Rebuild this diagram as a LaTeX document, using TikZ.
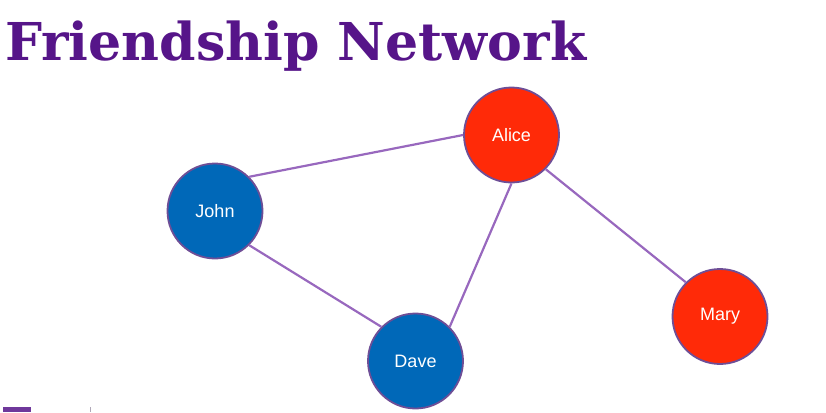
\documentclass[tikz,border=0pt]{standalone}
\usepackage{fontspec}
\setsansfont{Liberation Sans}
\newfontfamily\titlefont{DejaVu Serif}
\definecolor{titlepurple}{HTML}{561589}
\definecolor{edgepurple}{HTML}{9868BE}
\definecolor{rimpurple}{HTML}{6E4E96}
\definecolor{nodered}{HTML}{FF2A08}
\definecolor{nodeblue}{HTML}{0068B8}
\definecolor{tickgray}{HTML}{B0A8B8}
\begin{document}
\begin{tikzpicture}[x=1pt,y=-1pt,
  person/.style={circle,draw=rimpurple,line width=1.8pt,minimum size=95pt,inner sep=0pt,
    text=white,font=\sffamily\fontsize{18}{20}\selectfont},
  redp/.style={person,fill=nodered},
  bluep/.style={person,fill=nodeblue},
  tie/.style={draw=edgepurple,line width=2.2pt}]
\useasboundingbox (0,0) rectangle (826,412);
\node[anchor=base west,inner sep=0pt,text=titlepurple] (title) at (5,60) {\resizebox{581pt}{!}{\titlefont\bfseries\fontsize{50}{56}\selectfont Friendship Network}};
\node[redp] (alice) at (511.5,135) {Alice};
\node[bluep] (john) at (215,211) {John};
\node[bluep] (dave) at (415.5,361) {Dave};
\node[redp] (mary) at (720,316.5) {Mary};
\draw[tie] (john.north east) -- (alice.west);
\draw[tie] (john.south east) -- (dave.north west);
\draw[tie] (alice.south) -- (dave.north east);
\draw[tie] (alice.south east) -- (mary.north west);
\fill[titlepurple!85] (3,407) rectangle (31,412);
\fill[tickgray] (89.5,407) rectangle (90.8,412);
\end{tikzpicture}
\end{document}
